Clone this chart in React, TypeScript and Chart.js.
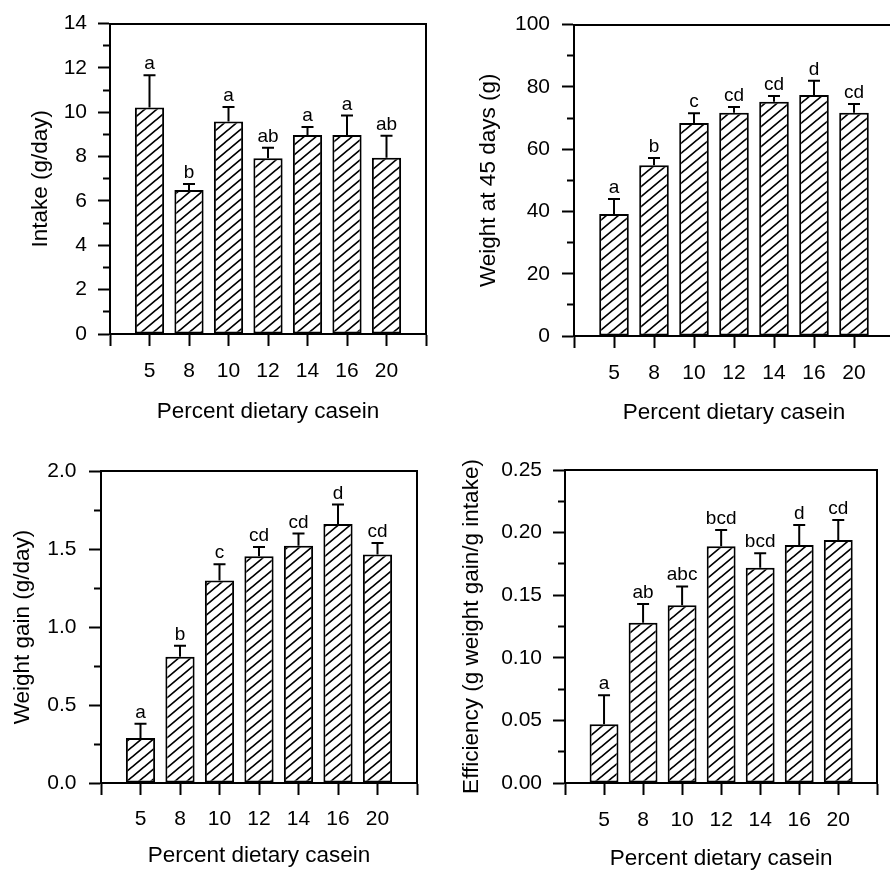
import React, { useEffect, useRef } from 'react';
import { Chart, registerables } from 'chart.js';

Chart.register(...registerables);

// ---------------- data ----------------
const casein = ['5', '8', '10', '12', '14', '16', '20'];

const intakeMean = [10.22, 6.49, 9.58, 7.93, 8.97, 8.97, 7.95];
const intakeSE = [1.45, 0.28, 0.66, 0.47, 0.37, 0.88, 0.99];
const intakeLetters = ['a', 'b', 'a', 'ab', 'a', 'a', 'ab'];
const intakeTicks = [0, 2, 4, 6, 8, 10, 12, 14];

const weightMean = [39.2, 54.8, 68.4, 71.7, 75.2, 77.4, 71.7];
const weightSE = [4.8, 2.4, 3.1, 1.8, 1.9, 4.6, 2.8];
const weightLetters = ['a', 'b', 'c', 'cd', 'cd', 'd', 'cd'];
const weightTicks = [0, 20, 40, 60, 80, 100];

const gainMean = [0.288, 0.809, 1.298, 1.453, 1.521, 1.661, 1.464];
const gainSE = [0.092, 0.071, 0.105, 0.06, 0.078, 0.124, 0.075];
const gainLetters = ['a', 'b', 'c', 'cd', 'cd', 'd', 'cd'];
const gainTicks = [0, 0.5, 1.0, 1.5, 2.0];

const effMean = [0.047, 0.128, 0.142, 0.189, 0.172, 0.19, 0.194];
const effSE = [0.023, 0.015, 0.015, 0.013, 0.0115, 0.016, 0.016];
const effLetters = ['a', 'ab', 'abc', 'bcd', 'bcd', 'd', 'cd'];
const effTicks = [0, 0.05, 0.1, 0.15, 0.2, 0.25];

const xTitle = 'Percent dietary casein';
const FONT = '"Liberation Sans", Arial, Helvetica, sans-serif';

type Spec = {
  yTitle: string;
  mean: number[];
  se: number[];
  letters: string[];
  ticks: number[];
  decimals: number;
  cx: number; cy: number; cw: number; ch: number;
  l: number; t: number; r: number; b: number;
  yTitleX: number; xTitleFromBottom: number;
  yTickPad: number; xTickPad: number;
};

const panels: Spec[] = [
  {
    yTitle: 'Intake (g/day)', mean: intakeMean, se: intakeSE, letters: intakeLetters,
    ticks: intakeTicks, decimals: 0,
    cx: 0, cy: 0, cw: 445, ch: 437,
    l: 110, t: 16, r: 426, b: 334,
    yTitleX: 41, xTitleFromBottom: 25.5, yTickPad: 11, xTickPad: 12.4,
  },
  {
    yTitle: 'Weight at 45 days (g)', mean: weightMean, se: weightSE, letters: weightLetters,
    ticks: weightTicks, decimals: 0,
    cx: 445, cy: 0, cw: 470, ch: 437,
    l: 574, t: 19, r: 894, b: 336,
    yTitleX: 44, xTitleFromBottom: 24.5, yTickPad: 12, xTickPad: 12.4,
  },
  {
    yTitle: 'Weight gain (g/day)', mean: gainMean, se: gainSE, letters: gainLetters,
    ticks: gainTicks, decimals: 1,
    cx: 0, cy: 437, cw: 445, ch: 437,
    l: 101, t: 471, r: 417, b: 783,
    yTitleX: 22.5, xTitleFromBottom: 18, yTickPad: 12.5, xTickPad: 11.7,
  },
  {
    yTitle: 'Efficiency (g weight gain/g intake)', mean: effMean, se: effSE, letters: effLetters,
    ticks: effTicks, decimals: 2,
    cx: 445, cy: 437, cw: 445, ch: 437,
    l: 565, t: 470, r: 885, b: 783,
    yTitleX: 26.7, xTitleFromBottom: 15.7, yTickPad: 11, xTickPad: 12.7,
  },
];

function makeHatch(): CanvasPattern | string {
  const w = 12, h = 10;
  const c = document.createElement('canvas');
  c.width = w; c.height = h;
  const g = c.getContext('2d');
  if (!g) return '#fff';
  g.fillStyle = '#fff';
  g.fillRect(0, 0, w, h);
  g.strokeStyle = '#000';
  g.lineWidth = 1.7;
  g.beginPath();
  for (const k of [-1, 0, 1]) {
    g.moveTo(k * w - w, 2 * h);
    g.lineTo(k * w + 2 * w, -h);
  }
  g.stroke();
  return g.createPattern(c, 'repeat') || '#fff';
}

function Panel({ spec }: { spec: Spec }) {
  const ref = useRef<HTMLCanvasElement | null>(null);
  useEffect(() => {
    const canvas = ref.current;
    if (!canvas) return;
    const s = spec;
    const majors = s.ticks;
    const allTicks: number[] = [];
    for (let i = 0; i < majors.length; i++) {
      allTicks.push(majors[i]);
      if (i < majors.length - 1) allTicks.push((majors[i] + majors[i + 1]) / 2);
    }
    const isMajor = (v: number) => majors.some((m) => Math.abs(m - v) < 1e-9);
    const xTickVals = [-1, 0, 1, 2, 3, 4, 5, 6, 7];

    const errPlugin = {
      id: 'errLetters',
      afterDatasetsDraw(chart: any) {
        const meta = chart.getDatasetMeta(0);
        const ys = chart.scales.y;
        const ctx = chart.ctx as CanvasRenderingContext2D;
        ctx.save();
        ctx.strokeStyle = '#000';
        ctx.lineWidth = 2;
        ctx.fillStyle = '#000';
        ctx.font = `19px ${FONT}`;
        ctx.textAlign = 'center';
        ctx.textBaseline = 'alphabetic';
        meta.data.forEach((bar: any, i: number) => {
          const x = bar.x;
          const y0 = ys.getPixelForValue(s.mean[i]);
          const y1 = ys.getPixelForValue(s.mean[i] + s.se[i]);
          ctx.beginPath();
          ctx.moveTo(x, y0);
          ctx.lineTo(x, y1);
          ctx.moveTo(x - 6, y1);
          ctx.lineTo(x + 6, y1);
          ctx.stroke();
          ctx.fillText(s.letters[i], x, y1 - 6);
        });
        ctx.restore();
      },
    };

    const chart = new Chart(canvas, {
      type: 'bar',
      data: {
        datasets: [
          {
            data: s.mean.map((v, i) => ({ x: i, y: v })),
            backgroundColor: makeHatch() as any,
            borderColor: '#000',
            borderWidth: 2,
            borderSkipped: false,
            categoryPercentage: 1,
            barPercentage: 0.74,
          } as any,
        ],
      },
      options: {
        responsive: false,
        animation: false,
        devicePixelRatio: 1,
        layout: {
          padding: { left: 0, top: s.t - s.cy, right: s.cx + s.cw - s.r, bottom: 0 },
        },
        plugins: {
          legend: { display: false },
          tooltip: { enabled: false },
          title: { display: false },
        },
        scales: {
          x: {
            type: 'linear',
            position: 'bottom',
            min: -1,
            max: 7,
            offset: false,
            afterBuildTicks: (sc: any) => {
              sc.ticks = xTickVals.map((v) => ({ value: v }));
            },
            afterFit: (sc: any) => {
              sc.height = s.cy + s.ch - s.b;
            },
            ticks: {
              autoSkip: false,
              maxRotation: 0,
              padding: s.xTickPad,
              color: '#000',
              font: { family: FONT, size: 21 },
              callback: (v: any) => casein[v as number] ?? '',
            },
            grid: {
              offset: false,
              drawOnChartArea: false,
              drawTicks: true,
              tickLength: 12,
              tickWidth: 2,
              tickColor: '#000',
              color: '#000',
            },
            border: { display: true, color: '#000', width: 2 },
            title: {
              display: true,
              text: xTitle,
              color: '#000',
              font: { family: FONT, size: 22.5 },
              padding: { top: 0, bottom: s.xTitleFromBottom - 13.5 },
            },
          },
          y: {
            type: 'linear',
            position: 'left',
            min: majors[0],
            max: majors[majors.length - 1],
            afterBuildTicks: (sc: any) => {
              sc.ticks = allTicks.map((v) => ({ value: v }));
            },
            afterFit: (sc: any) => {
              sc.width = s.l - s.cx;
            },
            ticks: {
              autoSkip: false,
              padding: s.yTickPad,
              color: '#000',
              font: { family: FONT, size: 21 },
              callback: (v: any) => (isMajor(v as number) ? (v as number).toFixed(s.decimals) : ''),
            },
            grid: {
              drawOnChartArea: false,
              drawTicks: true,
              tickLength: 12,
              tickWidth: 2,
              tickColor: '#000',
              color: '#000',
              tickBorderDash: (ctx: any) =>
                ctx && ctx.tick && !isMajor(ctx.tick.value) ? [0, 5, 50] : [],
            } as any,
            border: { display: true, color: '#000', width: 2 },
            title: {
              display: true,
              text: s.yTitle,
              color: '#000',
              font: { family: FONT, size: 22.5 },
              padding: { top: s.yTitleX - 13.5, bottom: 0 },
            },
          },
          x2: {
            type: 'linear',
            position: 'top',
            min: 0,
            max: 1,
            afterFit: (sc: any) => {
              sc.height = 0;
            },
            ticks: { display: false },
            grid: { display: false, drawTicks: false },
            border: { display: true, color: '#000', width: 2 },
          },
          y2: {
            type: 'linear',
            position: 'right',
            min: 0,
            max: 1,
            afterFit: (sc: any) => {
              sc.width = 0;
            },
            ticks: { display: false },
            grid: { display: false, drawTicks: false },
            border: { display: true, color: '#000', width: 2 },
          },
        },
      } as any,
      plugins: [errPlugin as any],
    });
    return () => chart.destroy();
  }, [spec]);

  return (
    <canvas
      ref={ref}
      width={spec.cw}
      height={spec.ch}
      style={{
        position: 'absolute',
        left: spec.cx,
        top: spec.cy,
        width: spec.cw,
        height: spec.ch,
        display: 'block',
      }}
    />
  );
}

export default function App() {
  return (
    <div
      style={{
        position: 'absolute',
        left: 0,
        top: 0,
        width: 890,
        height: 874,
        overflow: 'hidden',
        background: '#fff',
      }}
    >
      {panels.map((p, i) => (
        <Panel key={i} spec={p} />
      ))}
    </div>
  );
}
